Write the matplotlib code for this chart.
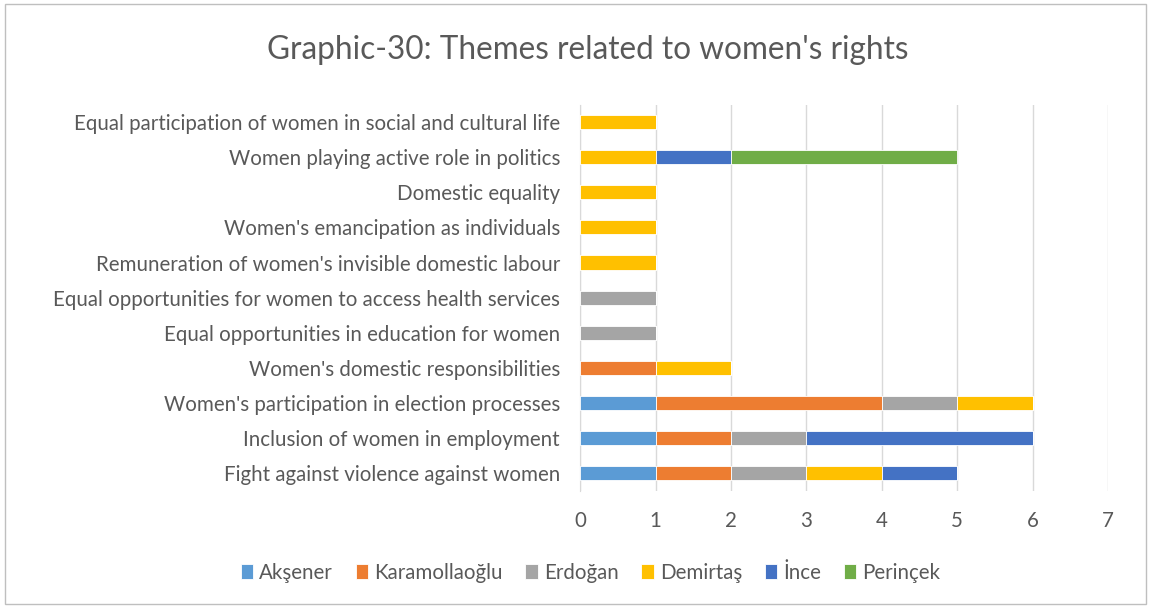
import matplotlib.pyplot as plt
from matplotlib.patches import Rectangle

plt.rcParams['font.family'] = ['Lato', 'DejaVu Sans']

themes = [
    "Fight against violence against women",
    "Inclusion of women in employment",
    "Women's participation in election processes",
    "Women's domestic responsibilities",
    "Equal opportunities in education for women",
    "Equal opportunities for women to access health services",
    "Remuneration of women's invisible domestic labour",
    "Women's emancipation as individuals",
    "Domestic equality",
    "Women playing active role in politics",
    "Equal participation of women in social and cultural life",
]
aksener       = [1, 1, 1, 0, 0, 0, 0, 0, 0, 0, 0]
karamollaoglu = [1, 1, 3, 1, 0, 0, 0, 0, 0, 0, 0]
erdogan       = [1, 1, 1, 0, 1, 1, 0, 0, 0, 0, 0]
demirtas      = [1, 0, 1, 1, 0, 0, 1, 1, 1, 1, 1]
ince          = [1, 3, 0, 0, 0, 0, 0, 0, 0, 1, 0]
perincek      = [0, 0, 0, 0, 0, 0, 0, 0, 0, 3, 0]

series = [
    ("Akşener", aksener, "#5B9BD5"),
    ("Karamollaoğlu", karamollaoglu, "#ED7D31"),
    ("Erdoğan", erdogan, "#A5A5A5"),
    ("Demirtaş", demirtas, "#FFC000"),
    ("İnce", ince, "#4472C4"),
    ("Perinçek", perincek, "#70AD47"),
]

fig = plt.figure(figsize=(11.51, 6.08), dpi=100)
ax = fig.add_axes([0.504, 0.193, 0.4587, 0.635])

y = list(range(len(themes)))
left = [0] * len(themes)
for name, vals, col in series:
    ax.barh(y, vals, left=left, height=0.4, color=col, label=name,
            edgecolor='white', linewidth=0.6, zorder=3)
    left = [a + b for a, b in zip(left, vals)]

ax.set_xlim(0, 7)
ax.set_ylim(-0.5, len(themes) - 0.5)
ax.set_xticks(range(8))
ax.set_yticks(y)
ax.set_yticklabels(themes)
ax.tick_params(axis='both', length=0, colors='#595959', labelsize=14.8)
ax.tick_params(axis='y', pad=14.5)
ax.tick_params(axis='x', pad=15)
ax.grid(axis='x', color='#D9D9D9', linewidth=1, zorder=0)
for s in ['top', 'right', 'bottom']:
    ax.spines[s].set_visible(False)
ax.spines['left'].set_color('#D9D9D9')

fig.text(0.511, 0.918, "Graphic-30: Themes related to women's rights",
         ha='center', va='center', fontsize=22.7, color='#595959')

fig.legend(loc='center', bbox_to_anchor=(0.513, 0.058), ncol=6, frameon=False,
           fontsize=14.8, labelcolor='#595959', handlelength=0.6,
           handleheight=0.8, handletextpad=0.3, columnspacing=1.1)

fig.patches.append(Rectangle((0.004, 0.006), 0.992, 0.988, transform=fig.transFigure,
                             fill=False, edgecolor='#BFBFBF', linewidth=1))

fig.savefig('out.png', dpi=100)
